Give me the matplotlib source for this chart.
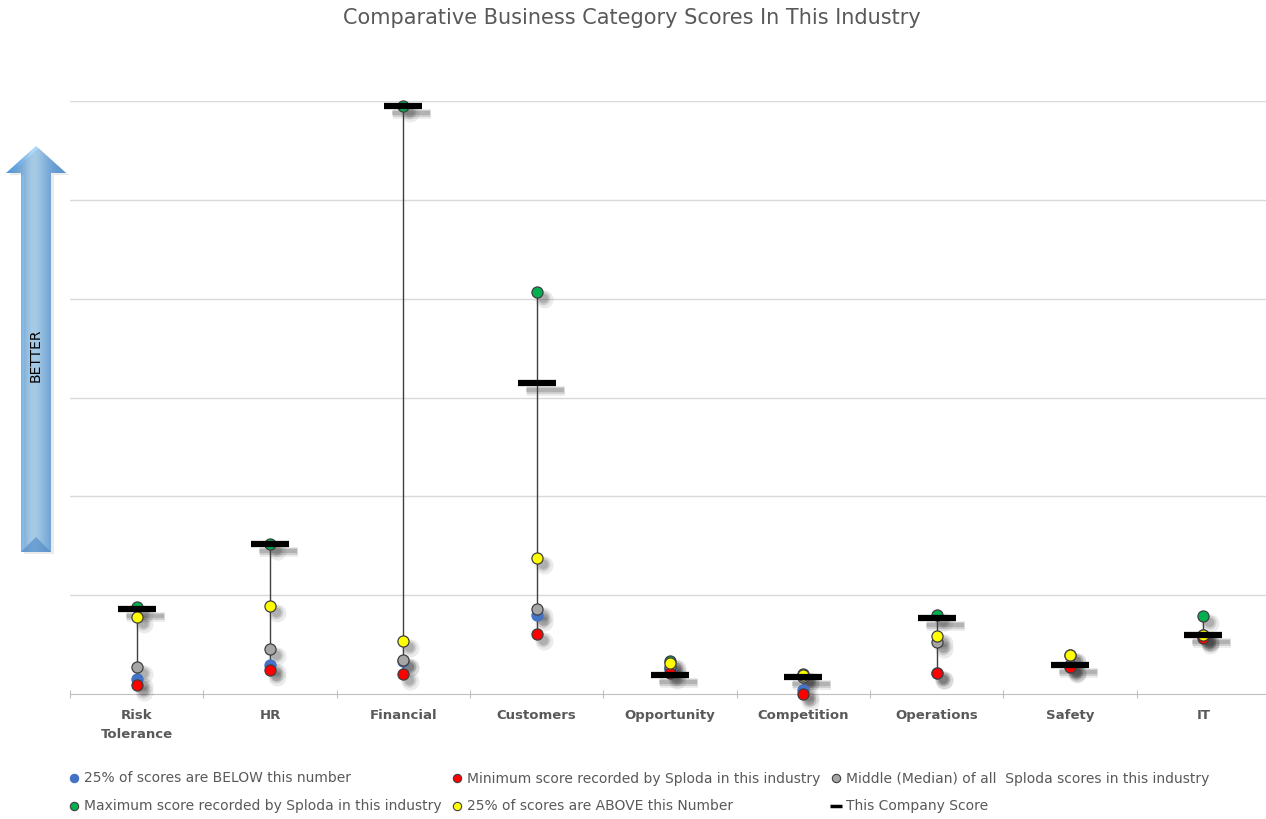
import numpy as np
import matplotlib
matplotlib.use('Agg')
import matplotlib.pyplot as plt
from matplotlib.patches import Polygon
from matplotlib.lines import Line2D
from matplotlib import transforms

# categories and score statistics (1 unit = 1 gridline)
categories = ['Risk\nTolerance', 'HR', 'Financial', 'Customers', 'Opportunity',
              'Competition', 'Operations', 'Safety', 'IT']
q1_scores = [0.15, 0.29, 0.33, 0.80, 0.25, 0.04, 0.21, 0.28, 0.59]
min_scores = [0.09, 0.24, 0.20, 0.61, 0.21, 0.00, 0.21, 0.27, 0.57]
median_scores = [0.27, 0.46, 0.34, 0.86, 0.27, 0.17, 0.53, 0.29, 0.60]
max_scores = [0.88, 1.52, 5.95, 4.07, 0.33, 0.20, 0.80, 0.39, 0.79]
q3_scores = [0.78, 0.89, 0.54, 1.38, 0.31, 0.19, 0.59, 0.39, 0.60]
company_scores = [0.86, 1.52, 5.95, 3.15, 0.19, 0.17, 0.77, 0.29, 0.60]

series = [
    # label, values, colour, z-order
    ('25% of scores are BELOW this number', q1_scores, '#4472c4', 4),
    ('Minimum score recorded by Sploda in this industry', min_scores, '#ff0000', 6),
    ('Middle (Median) of all  Sploda scores in this industry', median_scores, '#a6a6a6', 5),
    ('Maximum score recorded by Sploda in this industry', max_scores, '#00b050', 5),
    ('25% of scores are ABOVE this Number', q3_scores, '#ffff00', 7),
]

fig = plt.figure(figsize=(12.66, 8.19), dpi=100)
ax = fig.add_axes([70/1266, 125/819, 1200/1266, 593/819])

x = np.arange(len(categories))
ax.set_xlim(-0.5, len(categories) - 0.5)
ax.set_ylim(0, 6)

#gridlines
for g in range(1, 7):
    ax.axhline(g, color='#d9d9d9', lw=1, zorder=0)

#min to max lines
ax.vlines(x, min_scores, max_scores, color='#404040', lw=1, zorder=2)

#soft shadows, offset down-right
for dx, alpha, ms in [(7, 0.10, 13), (6, 0.16, 10), (6, 0.22, 7)]:
    sh = transforms.offset_copy(ax.transData, fig=fig, x=dx, y=-dx, units='dots')
    for label, vals, col, z in series:
        ax.plot(x, vals, 'o', ms=ms, color='#404040', alpha=alpha, mew=0,
                transform=sh, zorder=3, clip_on=False)
for dx, alpha, mw in [(9, 0.10, 7), (8, 0.16, 5), (8, 0.2, 3)]:
    sh = transforms.offset_copy(ax.transData, fig=fig, x=dx, y=-dx + 1, units='dots')
    ax.plot(x, company_scores, '_', ms=28, mew=mw, color='#404040', alpha=alpha,
            transform=sh, zorder=3, clip_on=False)

handles = {}
for label, vals, col, z in series:
    edge = col if col == '#4472c4' else '#404040'
    h, = ax.plot(x, vals, 'o', ms=8, color=col, mec=edge, mew=0.9,
                 linestyle='none', zorder=z, clip_on=False, label=label)
    handles[label] = h

bar, = ax.plot(x, company_scores, '_', ms=28, mew=4.5, color='black',
               linestyle='none', zorder=8, clip_on=False, label='This Company Score')

#axes styling
for s in ['top', 'right', 'left']:
    ax.spines[s].set_visible(False)
ax.spines['bottom'].set_color('#bfbfbf')
ax.set_yticks([])
ax.set_xticks(np.arange(-0.5, len(categories) + 0.5, 1), minor=False)
ax.set_xticklabels([])
ax.tick_params(axis='x', which='major', length=6, color='#bfbfbf', direction='inout')
ax.set_xticks(x, minor=True)
ax.set_xticklabels(categories, minor=True, fontsize=9.5, fontweight='bold', color='#595959',
                   linespacing=1.6)
ax.tick_params(axis='x', which='minor', length=0, pad=11)

fig.text(632/1266, 1 - 18/819, 'Comparative Business Category Scores In This Industry',
         ha='center', va='center', fontsize=15, color='#595959')

#legend, Excel fills rows first so reorder for matplotlib column filling
order = [series[0][0], series[3][0], series[1][0], series[4][0], series[2][0]]
leg_handles = []
for lab in order:
    h = handles[lab]
    leg_handles.append(Line2D([], [], marker='o', ms=6, linestyle='none', color=h.get_color(),
                              mec=h.get_markeredgecolor(), mew=0.8, label=lab))
leg_handles.append(Line2D([], [], marker='_', ms=9, mew=2.5, color='black', linestyle='none',
                          label='This Company Score'))
fig.legend(handles=leg_handles, loc='upper left', bbox_to_anchor=(56/1266, 1 - 759/819),
           ncol=3, frameon=False, fontsize=10, handlelength=0.8, handletextpad=0.3,
           columnspacing=0.75, labelspacing=1.0, labelcolor='#595959')

#the BETTER arrow on the left, drawn in pixel coords
ov = fig.add_axes([0, 0, 1, 1], zorder=-1)
ov.set_xlim(0, 1266)
ov.set_ylim(819, 0)
ov.axis('off')
pts = [(36, 146), (66, 173), (51, 173), (51, 552), (21, 552), (21, 173), (6, 173)]
sh_arrow = Polygon([(px + 3, py + 2) for px, py in pts], closed=True, fc='#7f7f7f', ec='none', alpha=0.15)
ov.add_patch(sh_arrow)
arrow = Polygon(pts, closed=True, fc='none', ec='none')
ov.add_patch(arrow)
grad = np.array([[0.1, 0.3, 0.55, 1.0, 0.8, 0.45, 0.25, 0.1]])
cmap = matplotlib.colors.LinearSegmentedColormap.from_list('arr', ['#5598db', '#b8e0fc'])
img = ov.imshow(grad, extent=(6, 66, 552, 146), cmap=cmap, aspect='auto', interpolation='bicubic')
img.set_clip_path(arrow)
#darker bevel at the bottom of the shaft
ov.add_patch(Polygon([(21, 552), (36, 537), (51, 552)], closed=True, fc='#4a86c5', ec='none', alpha=0.6))
ov.text(36, 355, 'BETTER', rotation=90, ha='center', va='center', fontsize=10, color='black')

fig.savefig('out.png', dpi=100)
